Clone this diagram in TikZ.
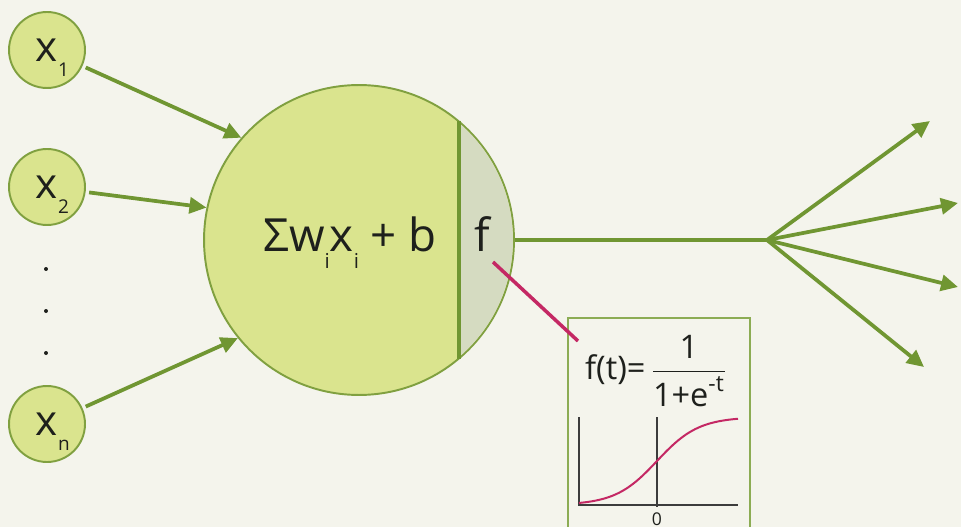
\documentclass[tikz,border=0pt]{standalone}
\usepackage{amsmath}
\usepackage{fontspec}
\setmainfont{Open Sans}
\usetikzlibrary{arrows.meta,calc}
\definecolor{bgcol}{RGB}{244,244,236}
\definecolor{cellgreen}{RGB}{218,228,142}
\definecolor{rimgreen}{RGB}{128,160,64}
\definecolor{wiregreen}{RGB}{112,150,50}
\definecolor{fcellgray}{RGB}{213,219,193}
\definecolor{boxgreen}{RGB}{140,172,84}
\definecolor{sigpink}{RGB}{196,40,100}
\definecolor{axisgray}{RGB}{60,60,60}
\definecolor{inkcol}{RGB}{30,32,28}
\newcommand{\lowidx}[1]{\raisebox{-0.36em}[0pt][0pt]{\scalebox{0.45}{#1}}}

\begin{document}
\begin{tikzpicture}[x=0.02cm, y=-0.02cm, text=inkcol,
    inp/.style={circle, draw=rimgreen, line width=1.1pt, fill=cellgreen, minimum size=1.52cm, inner sep=0pt, font=\fontsize{24}{24}\selectfont},
    dotmark/.style={circle, fill=inkcol, minimum size=0.08cm, inner sep=0pt},
    wire/.style={draw=wiregreen, line width=0.075cm, -{Triangle[length=0.34cm,width=0.32cm]}},
    plainwire/.style={draw=wiregreen, line width=0.065cm},
    bigtext/.style={font=\fontsize{26}{26}\selectfont, anchor=base, inner sep=0pt},
    axisline/.style={draw=axisgray, line width=0.7pt},
    pinkline/.style={draw=sigpink, line width=0.07cm}]
  \fill[bgcol] (0,0) rectangle (961,527);
  \useasboundingbox (0,0) rectangle (961,527);
  \clip (0,0) rectangle (961,527);

  \node[inp] (x1) at (47,50) {x\rlap{\lowidx{1}}};
  \node[inp] (x2) at (47,187) {x\rlap{\lowidx{2}}};
  \node[inp] (xn) at (47,424) {x\rlap{\lowidx{n}}};
  \foreach \y [count=\i] in {269,311,353}
    \node[dotmark] (dot\i) at (46,\y) {};

  \node[circle, draw=rimgreen, line width=1.1pt, fill=cellgreen, minimum size=6.2cm, inner sep=0pt] (neuron) at (359,240) {};
  \begin{scope}
    \clip (neuron.center) circle (3.08cm);
    \fill[fcellgray] (458,80) rectangle (530,400);
  \end{scope}
  \draw[wiregreen, line width=0.08cm] (neuron.50.2) -- (neuron.-50.2);
  \node[bigtext] (sum) at (350,252) {Σw\lowidx{i}x\lowidx{i} + b};
  \node[bigtext] (f) at (482,252) {f};

  \foreach \n/\a in {x1/139, x2/168, xn/219}
    \draw[wire, shorten <=2pt] (\n) -- (neuron.\a);

  \coordinate (hub) at (767,240);
  \draw[plainwire] (neuron.east) -- (hub);
  \foreach \ox/\oy [count=\i] in {930/121, 958/203, 958/287, 924/367}
    \coordinate (out\i) at (\ox,\oy);
  \foreach \i in {1,...,4}
    \draw[wire] (hub) -- (out\i);

  \node[draw=boxgreen, line width=1.1pt, fill=bgcol, anchor=north west, minimum width=3.64cm, minimum height=4.6cm, inner sep=0pt] (fbox) at (567,317) {};
  \coordinate (ftail) at (493,262);
  \coordinate (fhead) at ($(fbox.north west)+(11,24)$);
  \draw[pinkline] (ftail) -- (fhead);

  \node[font=\fontsize{18.5}{18.5}\selectfont, inner sep=0pt] (formula) at (656,371) {f(t)=\,$\dfrac{\text{1}}{\text{1+e}^{\text{-t}}}$};
  \draw[axisline] (579,417) -- (579,505) -- (738,505);
  \draw[axisline] (657,417) -- (657,507);
  \node[font=\fontsize{10}{10}\selectfont, inner sep=0pt] (zero) at (657,519) {0};
  \draw[draw=sigpink, line width=0.04cm] plot[domain=579:738, samples=60] (\x,{505-88/(1+exp(-0.048*(\x-657)))});
\end{tikzpicture}
\end{document}
